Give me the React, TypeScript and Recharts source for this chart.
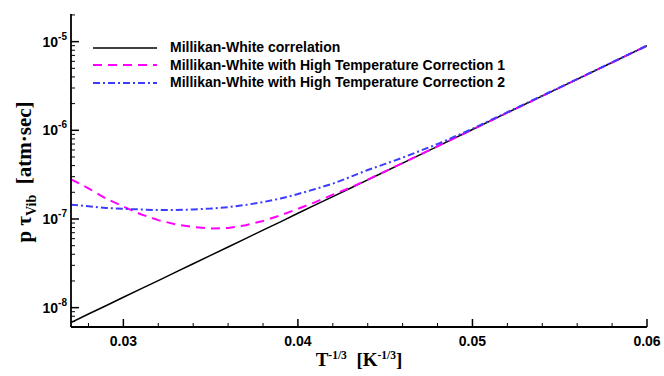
import React from "react";
import { LineChart, Line, XAxis, YAxis, Legend } from "recharts";

// T^-1/3 sample positions
const xValues = [
  0.027, 0.028, 0.029, 0.03, 0.031, 0.032, 0.033, 0.034, 0.035, 0.036, 0.037, 0.038, 0.039,
  0.04, 0.041, 0.042, 0.043, 0.044, 0.045, 0.046, 0.048, 0.05, 0.052, 0.055, 0.058, 0.06,
];

// p*tau_vib [atm sec]
const millikanWhite = [
  6.8e-9, 8.47e-9, 1.05e-8, 1.31e-8, 1.63e-8, 2.02e-8, 2.52e-8, 3.13e-8, 3.89e-8, 4.83e-8, 6.01e-8,
  7.48e-8, 9.29e-8, 1.16e-7, 1.44e-7, 1.79e-7, 2.22e-7, 2.76e-7, 3.43e-7, 4.27e-7, 6.6e-7, 1.02e-6,
  1.58e-6, 3.03e-6, 5.82e-6, 9.0e-6,
];
const correction1 = [
  2.8e-7, 2.22e-7, 1.7e-7, 1.38e-7, 1.13e-7, 9.7e-8, 8.7e-8, 8.1e-8, 7.8e-8, 7.9e-8, 8.5e-8,
  9.5e-8, 1.1e-7, 1.3e-7, 1.55e-7, 1.88e-7, 2.26e-7, 2.78e-7, 3.44e-7, 4.28e-7, 6.6e-7, 1.02e-6,
  1.58e-6, 3.03e-6, 5.82e-6, 9.0e-6,
];
const correction2 = [
  1.45e-7, 1.39e-7, 1.33e-7, 1.3e-7, 1.28e-7, 1.26e-7, 1.26e-7, 1.28e-7, 1.31e-7, 1.36e-7, 1.44e-7,
  1.55e-7, 1.7e-7, 1.91e-7, 2.18e-7, 2.5e-7, 2.98e-7, 3.57e-7, 4.18e-7, 4.92e-7, 7.0e-7, 1.04e-6,
  1.6e-6, 3.05e-6, 5.85e-6, 9.0e-6,
];

const seriesNames = [
  "Millikan-White correlation",
  "Millikan-White with High Temperature Correction 1",
  "Millikan-White with High Temperature Correction 2",
];

const xMajorTicks = [0.03, 0.04, 0.05, 0.06];
const xMinorTicks = [0.028, 0.032, 0.034, 0.036, 0.038, 0.042, 0.044, 0.046, 0.048, 0.052, 0.054, 0.056, 0.058];
const yMajorTicks = [1e-8, 1e-7, 1e-6, 1e-5];
const yMinorTicks = [
  7e-9, 8e-9, 9e-9,
  2e-8, 3e-8, 4e-8, 5e-8, 6e-8, 7e-8, 8e-8, 9e-8,
  2e-7, 3e-7, 4e-7, 5e-7, 6e-7, 7e-7, 8e-7, 9e-7,
  2e-6, 3e-6, 4e-6, 5e-6, 6e-6, 7e-6, 8e-6, 9e-6,
  2e-5,
];

const data = xValues.map((x, i) => ({
  x,
  mw: millikanWhite[i],
  c1: correction1[i],
  c2: correction2[i],
}));

const X_DOMAIN = [0.027, 0.06];
const Y_DOMAIN = [6.05e-9, 2.05e-5];
const xTicks = [...xMajorTicks, ...xMinorTicks].sort((a, b) => a - b);
const yTicks = [...yMajorTicks, ...yMinorTicks].sort((a, b) => a - b);

const sans = "'Liberation Sans', Arial, Helvetica, sans-serif";
const serif = "'Liberation Serif', 'Times New Roman', serif";

const BottomTick = (props: any) => {
  const { x, y, payload } = props;
  const major = xMajorTicks.includes(payload.value);
  return (
    <g>
      <line x1={x} x2={x} y1={y} y2={y - (major ? 8 : 4)} stroke="#000" strokeWidth={major ? 1.5 : 1} />
      {major && (
        <text x={x} y={y + 19} textAnchor="middle" fontFamily={sans} fontWeight="bold" fontSize={14} fill="#000">
          {payload.value.toFixed(2)}
        </text>
      )}
    </g>
  );
};

const TopTick = (props: any) => {
  const { x, y, payload } = props;
  const major = xMajorTicks.includes(payload.value);
  return <line x1={x} x2={x} y1={y} y2={y + (major ? 8 : 4)} stroke="#000" strokeWidth={major ? 1.5 : 1} />;
};

const LeftTick = (props: any) => {
  const { x, y, payload } = props;
  const major = yMajorTicks.includes(payload.value);
  const exp = Math.round(Math.log10(payload.value));
  return (
    <g>
      <line x1={x} x2={x + (major ? 8 : 4)} y1={y} y2={y} stroke="#000" strokeWidth={major ? 1.5 : 1} />
      {major && (
        <text x={x - 4} y={y + 5} textAnchor="end" fontFamily={sans} fontWeight="bold" fontSize={14} fill="#000">
          <tspan>10</tspan>
          <tspan dy={-7} fontSize={10}>{String(exp)}</tspan>
        </text>
      )}
    </g>
  );
};

const RightTick = (props: any) => {
  const { x, y, payload } = props;
  const major = yMajorTicks.includes(payload.value);
  return <line x1={x} x2={x - (major ? 8 : 4)} y1={y} y2={y} stroke="#000" strokeWidth={major ? 1.5 : 1} />;
};

const XLabel = (props: any) => {
  const vb = props.viewBox || {};
  const cx = (vb.x ?? 71) + (vb.width ?? 576) / 2;
  return (
    <text x={cx} y={366} textAnchor="middle" fontFamily={serif} fontWeight="bold" fontSize={19} fill="#000">
      <tspan>T</tspan>
      <tspan dy={-7} fontSize={11.5}>-1/3</tspan>
      <tspan dy={7}>{"\u00a0\u00a0[K"}</tspan>
      <tspan dy={-7} fontSize={11.5}>-1/3</tspan>
      <tspan dy={7}>]</tspan>
    </text>
  );
};

const YLabel = () => (
  <text
    x={0}
    y={0}
    transform="translate(31,172) rotate(-90)"
    textAnchor="middle"
    fontFamily={serif}
    fontWeight="bold"
    fontSize={21}
    fill="#000"
  >
    <tspan>{"p \u03c4"}</tspan>
    <tspan dy={5} fontSize={14}>Vib</tspan>
    <tspan dy={-5}>{"\u00a0\u00a0[atm\u00b7sec]"}</tspan>
  </text>
);

const legendStyles = [
  { color: "#000000", dash: undefined, width: 1.5 },
  { color: "#ff00ff", dash: "9 6", width: 2 },
  { color: "#3c3cff", dash: "7 3 2 3", width: 2 },
];

const LegendBox = () => (
  <div style={{ display: "flex", flexDirection: "column" }}>
    {seriesNames.map((name, i) => (
      <div key={name} style={{ display: "flex", alignItems: "center", height: 17.5 }}>
        <svg width={64} height={6} style={{ display: "block" }}>
          <line
            x1={0}
            x2={64}
            y1={3}
            y2={3}
            stroke={legendStyles[i].color}
            strokeWidth={legendStyles[i].width}
            strokeDasharray={legendStyles[i].dash}
          />
        </svg>
        <span
          style={{
            marginLeft: 13,
            fontFamily: sans,
            fontWeight: "bold",
            fontSize: 14,
            color: "#000",
            lineHeight: "17px",
            whiteSpace: "nowrap",
          }}
        >
          {name}
        </span>
      </div>
    ))}
  </div>
);

export default function App() {
  return (
    <div style={{ position: "absolute", left: 0, top: 0, width: 664, height: 376, background: "#fff" }}>
      <LineChart width={664} height={376} data={data} margin={{ top: 14, right: 17, bottom: 0, left: 0 }}>
        <XAxis
          dataKey="x"
          type="number"
          domain={X_DOMAIN}
          allowDataOverflow
          ticks={xTicks}
          interval={0}
          tick={BottomTick}
          tickLine={false}
          tickSize={0}
          tickMargin={0}
          height={49}
          axisLine={{ stroke: "#000", strokeWidth: 1.8 }}
          label={<XLabel />}
        />
        <XAxis
          xAxisId="top"
          orientation="top"
          dataKey="x"
          type="number"
          domain={X_DOMAIN}
          allowDataOverflow
          ticks={xTicks}
          interval={0}
          tick={TopTick}
          tickLine={false}
          tickSize={0}
          tickMargin={0}
          height={0}
          axisLine={{ stroke: "#000", strokeWidth: 1.8 }}
        />
        <YAxis
          scale="log"
          type="number"
          domain={Y_DOMAIN}
          allowDataOverflow
          ticks={yTicks}
          interval={0}
          tick={LeftTick}
          tickLine={false}
          tickSize={0}
          tickMargin={0}
          width={71}
          axisLine={{ stroke: "#000", strokeWidth: 1.8 }}
          label={<YLabel />}
        />
        <YAxis
          yAxisId="right"
          orientation="right"
          scale="log"
          type="number"
          domain={Y_DOMAIN}
          allowDataOverflow
          ticks={yTicks}
          interval={0}
          tick={RightTick}
          tickLine={false}
          tickSize={0}
          tickMargin={0}
          width={0}
          axisLine={{ stroke: "#000", strokeWidth: 1.8 }}
        />
        <Legend
          layout="vertical"
          align="center"
          verticalAlign="middle"
          content={<LegendBox />}
          wrapperStyle={{ position: "absolute", left: 93, top: 39, width: "auto" }}
        />
        <Line dataKey="mw" name={seriesNames[0]} stroke="#000000" strokeWidth={1.5} dot={false} isAnimationActive={false} />
        <Line dataKey="c1" name={seriesNames[1]} stroke="#ff00ff" strokeWidth={2} strokeDasharray="9 6" dot={false} isAnimationActive={false} />
        <Line dataKey="c2" name={seriesNames[2]} stroke="#3c3cff" strokeWidth={2} strokeDasharray="7 3 2 3" dot={false} isAnimationActive={false} />
      </LineChart>
    </div>
  );
}
